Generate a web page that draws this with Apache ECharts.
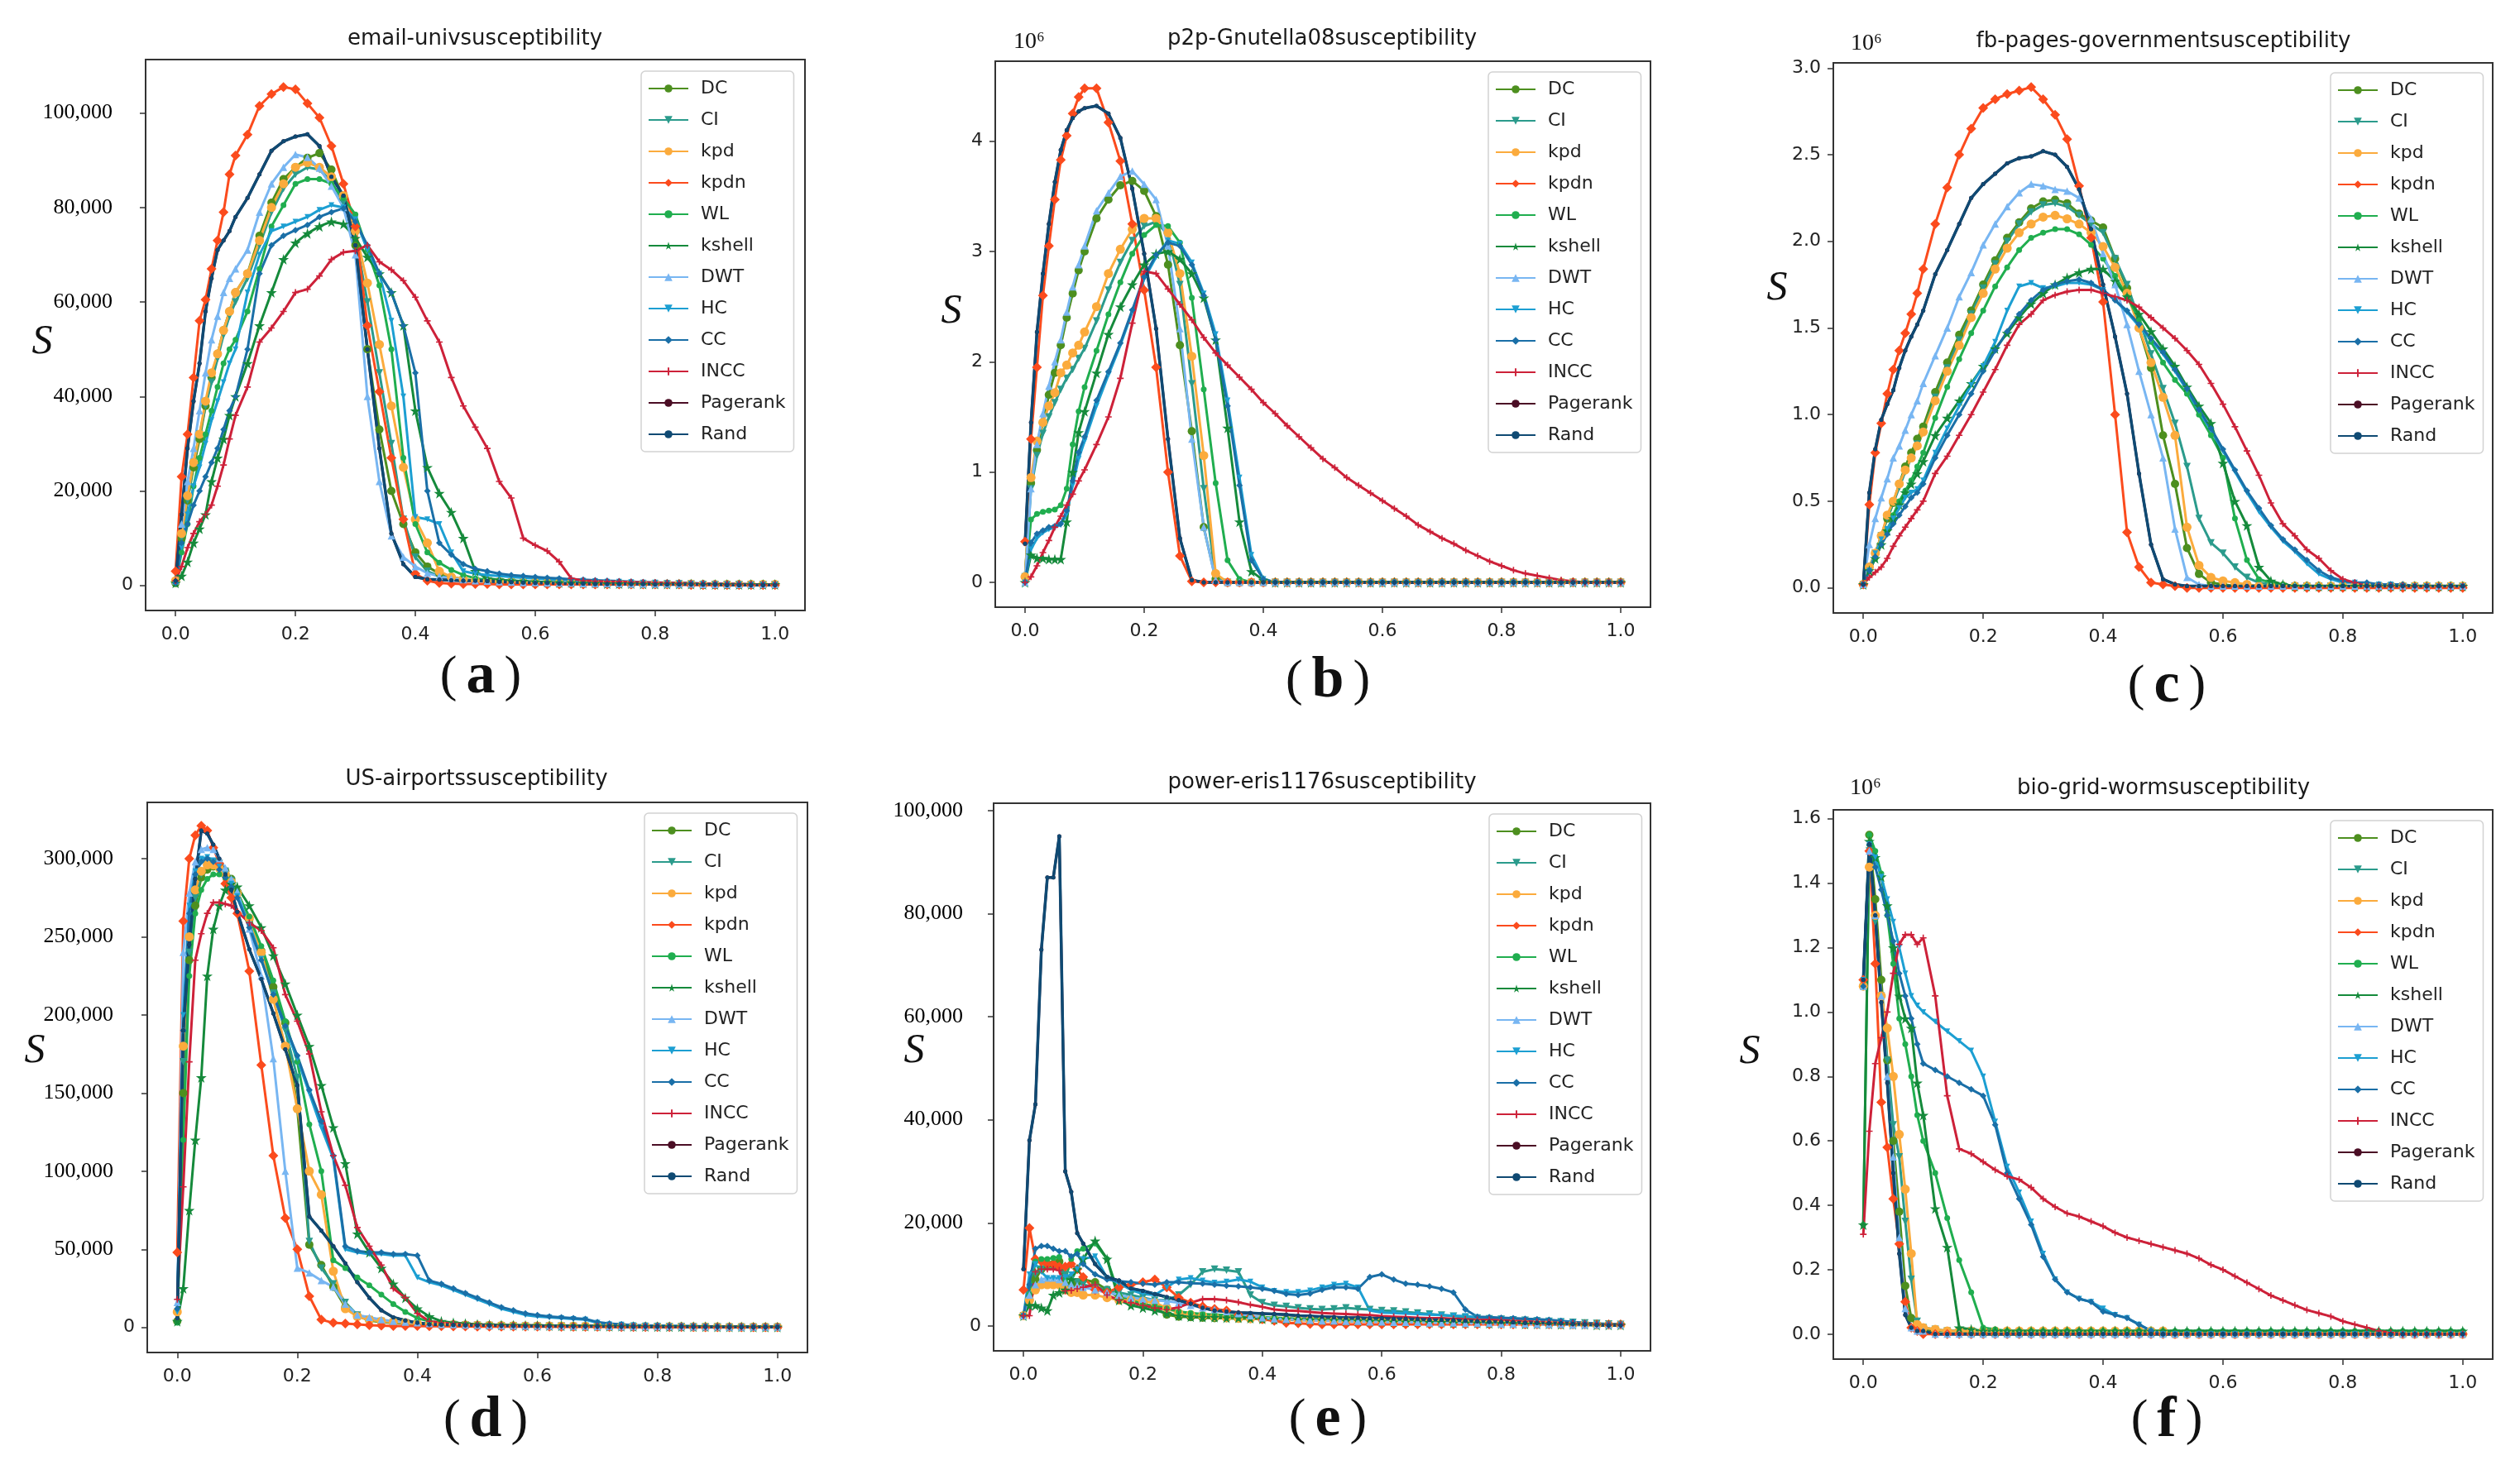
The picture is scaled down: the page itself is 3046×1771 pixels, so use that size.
<!DOCTYPE html>
<html>
<head>
<meta charset="utf-8">
<title>susceptibility</title>
<script src="https://cdn.jsdelivr.net/npm/echarts@6/dist/echarts.min.js"></script>
<style>
  html, body { margin: 0; background: #fff; }
  #chart { width: 3046px; height: 1771px; }
</style>
</head>
<body>
<div id="chart"></div>
<script>
// fraction of removed nodes (shared by all six panels)
const xs = [0,0.01,0.02,0.03,0.04,0.05,0.06,0.07,0.08,0.09,0.1, 0.12,0.14,0.16,0.18,0.2,0.22,0.24,0.26,0.28,0.3, 0.32,0.34,0.36,0.38,0.4,0.42,0.44,0.46,0.48,0.5, 0.52,0.54,0.56,0.58,0.6,0.62,0.64,0.66,0.68,0.7, 0.72,0.74,0.76,0.78,0.8,0.82,0.84,0.86,0.88,0.9,0.92,0.94,0.96,0.98,1];
const xTicks = [0,0.2,0.4,0.6,0.8,1];
const ticksA = [0,20,40,60,80,100];
const ticksB = [0,1,2,3,4];
const ticksC = [0,0.5,1,1.5,2,2.5,3];
const ticksD = [0,50,100,150,200,250,300];
const ticksE = [0,20,40,60,80,100];
const ticksF = [0,0.2,0.4,0.6,0.8,1,1.2,1.4,1.6];
const names = ['DC','CI','kpd','kpdn','WL','kshell','DWT','HC','CC','INCC','Pagerank','Rand'];

// (a) email-univ, thousands
const aDC = [0.5,10,18,25,31,38,44,49,54,58,62, 66,74,81,86,88.5,90.5,91.5,88,82,72, 50,33,20,13,7,4,2.5,1.8,1.3,1, 0.9,0.8,0.7,0.6,0.6,0.5,0.5,0.5,0.4,0.4, 0.4,0.4,0.3,0.3,0.3,0.3,0.3,0.3,0.2,0.2,0.2,0.2,0.2,0.2,0.2];
const aCI = [0.5,10,18,26,32,38,43,48,53,57,60, 65,72,79,84,87,88.5,88,85.5,81,74, 60,45,30,14,6,3,2,1.5,1.2,1, 0.9,0.8,0.7,0.6,0.6,0.5,0.5,0.5,0.4,0.4, 0.4,0.4,0.3,0.3,0.3,0.3,0.3,0.3,0.2,0.2,0.2,0.2,0.2,0.2,0.2];
const akpd = [1,11,19,26,32,39,45,49,54,58,62, 66,73,80,85,88.5,89.5,88.5,86.5,82.5,75, 64,51,38,25,14,9,3,1.8,1.3,1, 0.9,0.8,0.7,0.6,0.6,0.5,0.5,0.5,0.4,0.4, 0.4,0.4,0.3,0.3,0.3,0.3,0.3,0.3,0.2,0.2,0.2,0.2,0.2,0.2,0.2];
const akpdn = [3,23,32,44,56,60.5,67,73,79,87,91, 95.4,101.5,104,105.5,105,102,99,93,85,76, 55,41,27,14,2.5,1,0.5,0.4,0.3,0.3, 0.3,0.2,0.2,0.2,0.2,0.2,0.2,0.2,0.2,0.2, 0.2,0.2,0.2,0.2,0.2,0.2,0.2,0.1,0.1,0.1,0.1,0.1,0.1,0.1,0.1];
const aWL = [0.5,7,13,21,27,32,37,42,47,50,52, 58,67,76,80.5,85,86,86,85,82,78.5, 71,63.5,50,27,13,7,4.8,3.3,2.2,1.5, 1.2,1,0.9,0.8,0.7,0.6,0.6,0.5,0.5,0.4, 0.4,0.4,0.3,0.3,0.3,0.3,0.3,0.2,0.2,0.2,0.2,0.2,0.2,0.2,0.2];
const akshell = [0.5,2,5,9,12,15,22,27,31,36,40, 47,55,62,69,72.5,74.5,76,77,76.5,73.5, 69.5,66,62,55,37,25,19.5,15.5,10,3, 1.5,1.2,1,0.9,0.8,0.7,0.6,0.6,0.5,0.5, 0.4,0.4,0.4,0.3,0.3,0.3,0.3,0.3,0.2,0.2,0.2,0.2,0.2,0.2,0.2];
const aDWT = [1,13,22,29,37,45,52,57,62,65,67, 71,79,85,88.5,91.2,90.6,88.3,84.5,80,70, 40,22,10.5,6,4,2.6,1.9,1.5,1.2,1, 0.9,0.8,0.7,0.6,0.6,0.5,0.5,0.5,0.4,0.4, 0.4,0.4,0.3,0.3,0.3,0.3,0.3,0.3,0.2,0.2,0.2,0.2,0.2,0.2,0.2];
const aHC = [0.5,8,15,21,25,30,35,39,43,47,50, 62,70,75,76,77,78,79.5,80.5,80,77.5, 71,66,56,40,14.5,14,13,7,3,2.5, 2.2,2,1.8,1.6,1.5,1.3,1.2,1.1,1,0.9, 0.8,0.8,0.7,0.6,0.6,0.5,0.5,0.4,0.4,0.3,0.3,0.3,0.2,0.2,0.2];
const aCC = [0.5,9,13,17,20,23,26,29,33,37,40, 50,66,72,74,75.2,76.3,78,79,79.8,77, 72,66,62,55,45,20,9,6.5,4.5,3.5, 3,2.5,2.2,2,1.8,1.6,1.5,1.3,1.2,1.1, 1,0.9,0.8,0.7,0.6,0.6,0.5,0.5,0.4,0.4,0.3,0.3,0.2,0.2,0.2];
const aINCC = [1,4,8,11,13.5,15,17,21,25.5,31,36, 42,51.5,54.5,58,62,62.7,65.5,69,70.5,70.8, 72,68.5,66.8,64.5,61,56,51.5,44,38,33.5, 29,22,18.5,10,8.5,7.3,5,1.5,1,0.9, 0.8,0.8,0.7,0.6,0.6,0.5,0.5,0.4,0.4,0.3,0.3,0.3,0.2,0.2,0.2];
const aRand = [1,15,29,39,47,58,65,71,73,75,78, 82,87,92,94,95,95.5,93,86.5,82.5,72, 50,29,11,4.5,1.8,1.3,1.2,1.1,1,1, 0.9,0.8,0.7,0.6,0.5,0.5,0.4,0.4,0.4,0.3, 0.3,0.3,0.3,0.3,0.2,0.2,0.2,0.2,0.2,0.2,0.1,0.1,0.1,0.1,0.1];
const aPagerank = aRand; // hidden under Rand in the picture

// (b) p2p-Gnutella08, x10^6
const bDC = [0.05,0.9,1.2,1.45,1.7,1.9,2.15,2.4,2.62,2.83,3, 3.3,3.47,3.6,3.64,3.55,3.32,2.88,2.15,1.37,0.5, 0.03,0,0,0,0,0,0,0,0,0, 0,0,0,0,0,0,0,0,0,0, 0,0,0,0,0,0,0,0,0,0,0,0,0,0,0];
const bCI = [0.05,0.85,1.15,1.35,1.5,1.63,1.75,1.85,1.93,2.03,2.12, 2.37,2.65,2.9,3.1,3.23,3.27,3.15,2.7,1.8,0.85, 0.05,0,0,0,0,0,0,0,0,0, 0,0,0,0,0,0,0,0,0,0, 0,0,0,0,0,0,0,0,0,0,0,0,0,0,0];
const bkpd = [0.05,0.95,1.28,1.45,1.6,1.72,1.9,1.97,2.08,2.15,2.27, 2.5,2.8,3.02,3.2,3.3,3.3,3.17,2.8,2.05,1.15, 0.08,0,0,0,0,0,0,0,0,0, 0,0,0,0,0,0,0,0,0,0, 0,0,0,0,0,0,0,0,0,0,0,0,0,0,0];
const bkpdn = [0.37,1.3,1.95,2.6,3.05,3.47,3.83,4.05,4.25,4.4,4.48, 4.48,4.17,3.82,3.25,2.65,1.95,1,0.24,0.01,0, 0,0,0,0,0,0,0,0,0,0, 0,0,0,0,0,0,0,0,0,0, 0,0,0,0,0,0,0,0,0,0,0,0,0,0,0];
const bWL = [0,0.57,0.62,0.64,0.65,0.66,0.7,0.85,1.25,1.55,1.77, 2.1,2.43,2.72,2.98,3.15,3.24,3.23,3.08,2.58,1.75, 0.9,0.2,0.03,0,0,0,0,0,0,0, 0,0,0,0,0,0,0,0,0,0, 0,0,0,0,0,0,0,0,0,0,0,0,0,0,0];
const bkshell = [0,0.25,0.22,0.22,0.21,0.21,0.21,0.55,1,1.36,1.55, 1.9,2.25,2.5,2.7,2.88,2.98,3,2.93,2.8,2.58, 2.2,1.4,0.55,0.1,0.02,0,0,0,0,0, 0,0,0,0,0,0,0,0,0,0, 0,0,0,0,0,0,0,0,0,0,0,0,0,0,0];
const bDWT = [0,0.85,1.25,1.53,1.78,2,2.2,2.45,2.68,2.88,3.05, 3.37,3.53,3.68,3.73,3.61,3.47,3.05,2.3,1.3,0.5, 0.02,0,0,0,0,0,0,0,0,0, 0,0,0,0,0,0,0,0,0,0, 0,0,0,0,0,0,0,0,0,0,0,0,0,0,0];
const bHC = [0,0.3,0.4,0.45,0.48,0.5,0.52,0.62,0.88,1.12,1.28, 1.6,1.88,2.15,2.45,2.75,2.95,3.1,3.07,2.9,2.62, 2.25,1.65,0.95,0.25,0.03,0,0,0,0,0, 0,0,0,0,0,0,0,0,0,0, 0,0,0,0,0,0,0,0,0,0,0,0,0,0,0];
const bCC = [0,0.36,0.44,0.47,0.5,0.51,0.53,0.65,0.92,1.18,1.32, 1.65,1.91,2.17,2.47,2.77,2.97,3.08,3.05,2.88,2.6, 2.2,1.6,0.88,0.2,0.03,0,0,0,0,0, 0,0,0,0,0,0,0,0,0,0, 0,0,0,0,0,0,0,0,0,0,0,0,0,0,0];
const bINCC = [0,0.05,0.15,0.27,0.38,0.5,0.6,0.7,0.8,0.92,1.02, 1.25,1.5,1.85,2.35,2.82,2.8,2.66,2.52,2.38,2.22, 2.08,1.97,1.86,1.75,1.63,1.53,1.42,1.32,1.22,1.12, 1.04,0.95,0.88,0.81,0.74,0.67,0.6,0.52,0.46,0.4, 0.35,0.29,0.24,0.19,0.15,0.11,0.08,0.06,0.04,0.02,0.01,0,0,0,0];
const bRand = [0.35,1.45,2.27,2.8,3.25,3.63,3.92,4.1,4.21,4.27,4.3, 4.32,4.25,4.03,3.57,2.98,2.3,1.3,0.4,0.02,0, 0,0,0,0,0,0,0,0,0,0, 0,0,0,0,0,0,0,0,0,0, 0,0,0,0,0,0,0,0,0,0,0,0,0,0,0];
const bPagerank = bRand;

// (c) fb-pages-government, x10^6
const cDC = [0.02,0.12,0.2,0.3,0.4,0.49,0.6,0.7,0.78,0.86,0.93, 1.13,1.3,1.46,1.6,1.75,1.89,2.02,2.11,2.19,2.23, 2.24,2.22,2.16,2.12,2.08,1.9,1.73,1.5,1.27,0.88, 0.6,0.23,0.08,0.03,0.02,0.01,0.01,0.01,0.01,0.01, 0.01,0.01,0.01,0.01,0.01,0.01,0.01,0.01,0.01,0.01,0.01,0.01,0.01,0.01,0.01];
const cCI = [0.02,0.12,0.2,0.3,0.4,0.49,0.58,0.67,0.75,0.83,0.9, 1.1,1.27,1.43,1.58,1.73,1.87,2,2.1,2.17,2.21, 2.22,2.2,2.15,2.1,2.05,1.9,1.75,1.55,1.35,1.15, 0.95,0.7,0.4,0.26,0.2,0.12,0.06,0.03,0.02,0.01, 0.01,0.01,0.01,0.01,0.01,0.01,0.01,0.01,0.01,0.01,0.01,0.01,0.01,0.01,0.01];
const ckpd = [0.02,0.12,0.2,0.3,0.42,0.5,0.6,0.68,0.75,0.82,0.9, 1.08,1.25,1.4,1.56,1.7,1.84,1.96,2.05,2.1,2.14, 2.15,2.13,2.1,2.05,1.97,1.85,1.7,1.5,1.3,1.1, 0.88,0.35,0.13,0.06,0.04,0.03,0.02,0.01,0.01,0.01, 0.01,0.01,0.01,0.01,0.01,0.01,0.01,0.01,0.01,0.01,0.01,0.01,0.01,0.01,0.01];
const ckpdn = [0.02,0.48,0.78,0.95,1.12,1.26,1.37,1.47,1.58,1.7,1.84, 2.1,2.31,2.5,2.65,2.77,2.82,2.85,2.87,2.89,2.82, 2.73,2.59,2.32,2.02,1.65,1,0.32,0.12,0.03,0.02, 0.01,0,0,0,0,0,0,0,0,0, 0,0,0,0,0,0,0,0,0,0,0,0,0,0,0];
const cWL = [0.02,0.1,0.17,0.25,0.33,0.42,0.5,0.56,0.62,0.7,0.78, 0.98,1.16,1.32,1.47,1.6,1.74,1.85,1.95,2.02,2.05, 2.07,2.07,2.04,1.98,1.9,1.8,1.68,1.55,1.42,1.3, 1.2,1.12,1,0.88,0.75,0.4,0.16,0.05,0.03,0.02, 0.01,0.01,0.01,0.01,0.01,0.01,0.01,0.01,0.01,0.01,0.01,0.01,0.01,0.01,0.01];
const ckshell = [0.02,0.1,0.17,0.25,0.33,0.4,0.48,0.55,0.6,0.66,0.73, 0.88,0.98,1.08,1.18,1.28,1.38,1.47,1.56,1.64,1.7, 1.75,1.79,1.82,1.84,1.84,1.77,1.68,1.58,1.48,1.38, 1.28,1.16,1.05,0.95,0.72,0.5,0.36,0.12,0.04,0.02, 0.01,0.01,0.01,0.01,0.01,0.01,0.01,0.01,0.01,0.01,0.01,0.01,0.01,0.01,0.01];
const cDWT = [0.02,0.25,0.4,0.52,0.63,0.75,0.82,0.91,1,1.08,1.18, 1.34,1.5,1.68,1.82,1.98,2.1,2.2,2.28,2.33,2.32, 2.3,2.29,2.25,2.13,1.93,1.75,1.52,1.25,1,0.75, 0.34,0.06,0.02,0.01,0.01,0.01,0.01,0.01,0.01,0.01, 0.01,0.01,0.01,0.01,0.01,0.01,0.01,0.01,0.01,0.01,0.01,0.01,0.01,0.01,0.01];
const cHC = [0.02,0.1,0.2,0.28,0.34,0.4,0.46,0.52,0.55,0.57,0.62, 0.78,0.92,1.05,1.17,1.28,1.42,1.6,1.74,1.76,1.73, 1.74,1.76,1.76,1.75,1.72,1.66,1.59,1.51,1.43,1.35, 1.25,1.14,1.02,0.91,0.79,0.67,0.55,0.44,0.35,0.27, 0.21,0.14,0.08,0.05,0.03,0.03,0.02,0.02,0.02,0.01,0.01,0.01,0.01,0.01,0.01];
const cCC = [0.02,0.1,0.18,0.25,0.31,0.37,0.42,0.47,0.52,0.55,0.6, 0.75,0.88,1,1.12,1.25,1.37,1.48,1.58,1.66,1.72, 1.75,1.77,1.78,1.76,1.72,1.66,1.6,1.52,1.44,1.36, 1.26,1.15,1.03,0.92,0.8,0.68,0.56,0.46,0.36,0.28, 0.22,0.16,0.1,0.06,0.04,0.03,0.03,0.02,0.02,0.02,0.01,0.01,0.01,0.01,0.01];
const cINCC = [0.02,0.06,0.09,0.12,0.17,0.24,0.3,0.35,0.4,0.45,0.5, 0.66,0.76,0.88,1,1.13,1.26,1.4,1.52,1.58,1.66, 1.69,1.71,1.72,1.72,1.7,1.68,1.66,1.62,1.56,1.5, 1.44,1.37,1.29,1.18,1.06,0.93,0.79,0.65,0.49,0.37, 0.3,0.22,0.17,0.1,0.05,0.03,0.01,0.01,0.01,0.01,0.01,0.01,0.01,0.01,0.01];
const cRand = [0.02,0.55,0.8,0.97,1.06,1.14,1.27,1.37,1.45,1.52,1.6, 1.81,1.95,2.1,2.25,2.33,2.39,2.45,2.48,2.49,2.52, 2.5,2.43,2.3,2.07,1.75,1.45,1.12,0.66,0.25,0.05, 0.02,0.01,0.01,0.01,0.01,0.01,0.01,0.01,0.01,0.01, 0.01,0.01,0.01,0.01,0.01,0.01,0.01,0.01,0.01,0.01,0.01,0.01,0.01,0.01,0.01];
const cPagerank = cRand;

// (d) US-airports, thousands
const dDC = [4,150,235,270,288,293,295,296,292,287,279, 261,241,218,195,140,53,40,26,13,7.5, 4.5,3.5,3,2.5,2.2,2,1.8,1.6,1.5,1.4, 1.3,1.2,1.1,1,1,0.9,0.9,0.8,0.8,0.7, 0.7,0.6,0.6,0.6,0.5,0.5,0.5,0.4,0.4,0.4,0.3,0.3,0.3,0.3,0.3];
const dCI = [8,170,240,275,290,296,298,297,292,286,278, 259,238,214,190,160,55,38,28,16,8, 5,4,3.5,3,2.5,2.2,2,1.8,1.6,1.5, 1.3,1.2,1.1,1,1,0.9,0.9,0.8,0.8,0.7, 0.7,0.6,0.6,0.6,0.5,0.5,0.5,0.4,0.4,0.4,0.3,0.3,0.3,0.3,0.3];
const dkpd = [10,180,250,280,292,296,296,294,290,285,278, 262,240,210,180,140,100,85,36,12,7, 5,4,3.5,3,2.5,2.2,2,1.8,1.6,1.5, 1.3,1.2,1.1,1,1,0.9,0.9,0.8,0.8,0.7, 0.7,0.6,0.6,0.6,0.5,0.5,0.5,0.4,0.4,0.4,0.3,0.3,0.3,0.3,0.3];
const dkpdn = [48,260,300,315,321,318,307,297,284,275,265, 228,168,110,70,50,20,5,3,2.5,2, 1.5,1.2,1,1,0.9,0.8,0.8,0.7,0.7,0.6, 0.6,0.6,0.5,0.5,0.5,0.5,0.4,0.4,0.4,0.4, 0.4,0.3,0.3,0.3,0.3,0.3,0.3,0.3,0.2,0.2,0.2,0.2,0.2,0.2,0.2];
const dWL = [3,120,225,265,280,287,290,290,288,284,278, 263,244,222,196,170,130,100,43,38,32, 27,21,15,10,6,4,3,2.5,2,1.8, 1.6,1.5,1.4,1.3,1.2,1.1,1,0.9,0.9,0.8, 0.8,0.7,0.7,0.6,0.6,0.5,0.5,0.5,0.4,0.4,0.4,0.3,0.3,0.3,0.3];
const dkshell = [4,25,75,120,160,225,255,270,280,284,282, 270,256,238,220,200,180,155,128,105,60, 48,38,28,19,12,7,4,3,2.5,2, 1.8,1.6,1.5,1.4,1.3,1.2,1.1,1,0.9,0.9, 0.8,0.8,0.7,0.7,0.6,0.6,0.5,0.5,0.5,0.4,0.4,0.4,0.3,0.3,0.3];
const dDWT = [16,240,278,298,306,307,306,300,294,287,279, 255,225,172,100,38,35,30,26,15,8, 6.5,5,4,3.5,3,2.5,2,1.8,1.6,1.5, 1.3,1.2,1.1,1,1,0.9,0.9,0.8,0.8,0.7, 0.7,0.6,0.6,0.6,0.5,0.5,0.5,0.4,0.4,0.4,0.3,0.3,0.3,0.3,0.3];
const dHC = [10,200,270,292,300,301,299,295,290,284,276, 258,236,213,192,172,150,128,108,50,48, 47,47,46,46,32,29,27,24,21,18, 15,12,10,8,7,6.5,6,5.5,5,3, 2,1.8,1.5,1.3,1.2,1,0.9,0.8,0.7,0.6,0.5,0.5,0.4,0.4,0.4];
const dCC = [12,190,265,290,298,300,298,293,288,282,275, 256,235,213,193,174,152,132,110,52,49, 48,48,47,47,46,30,28,25,22,19, 16,13,11,9,8,7,6.5,6,5.5,3.5, 2.5,2,1.5,1.3,1.2,1,0.9,0.8,0.7,0.6,0.5,0.5,0.4,0.4,0.4];
const dINCC = [18,90,170,235,252,265,272,272,271,270,266, 259,254,243,213,196,175,138,110,91,64, 52,40,25,19,9,4,3,2.5,2,1.8, 1.6,1.5,1.4,1.3,1.2,1.1,1,0.9,0.9,0.8, 0.8,0.7,0.7,0.6,0.6,0.5,0.5,0.5,0.4,0.4,0.4,0.3,0.3,0.3,0.3];
const dRand = [6,190,245,287,318,316,309,300,290,280,266, 242,223,201,178,155,71,62,52,41,29, 19,11,6.5,4.5,3,2,1.8,1.6,1.5,1.4, 1.3,1.2,1.1,1,1,0.9,0.9,0.8,0.8,0.7, 0.7,0.6,0.6,0.6,0.5,0.5,0.5,0.4,0.4,0.4,0.3,0.3,0.3,0.3,0.3];
const dPagerank = dRand;

// (e) power-eris1176, thousands
const eDC = [2,5,9,11,12,12,12.5,8,8,8.5,9, 8.5,7,5.5,5,4.5,3.5,2.2,1.8,1.7,1.6, 1.5,1.5,1.4,1.4,1.3,1.3,1.2,1.2,1.1,1.1, 1,1,0.9,0.9,0.9,0.8,0.8,0.8,0.7,0.7, 0.7,0.6,0.6,0.6,0.5,0.5,0.5,0.4,0.4,0.4,0.3,0.3,0.3,0.2,0.2];
const eCI = [2,6,10,11,11.5,11.5,11,10,9,8.5,8, 7.5,7,6.5,6,5.5,5,5,6,8,10.5, 11,10.8,10.5,6,4.5,4,3.8,3.5,3.3,3.2, 3.3,3.5,3.3,3.2,3,2.9,2.7,2.5,2.3,2.1, 1.9,1.7,1.5,1.4,1.3,1.2,1.1,1,0.9,0.8,0.7,0.6,0.5,0.4,0.3];
const ekpd = [2,5,7,8,8,8,8,7,6.5,6.5,6, 6,5.5,5,5,4.8,4.5,3.5,2.5,2.2,2, 1.8,1.6,1.5,1.4,1.3,1.2,1.2,1.1,1.1,1, 1,0.9,0.9,0.9,0.8,0.8,0.8,0.7,0.7,0.7, 0.6,0.6,0.6,0.5,0.5,0.5,0.4,0.4,0.4,0.3,0.3,0.3,0.2,0.2,0.2];
const ekpdn = [7,19,13,12.5,12,12,11.5,11.5,12,11,9.5, 7,6.5,7.5,8,8.5,9,7.5,5.5,4.5,3.8, 3.3,3,2.2,1.8,1.3,1,0.6,0.5,0.4,0.3, 0.3,0.3,0.3,0.3,0.3,0.3,0.3,0.3,0.3,0.3, 0.3,0.3,0.3,0.3,0.3,0.3,0.3,0.3,0.3,0.3,0.3,0.3,0.3,0.3,0.3];
const eWL = [2,6,12.5,13,13,13.2,13.4,9,13,14.5,15, 16,13,6,5,4.2,3.9,3.4,2.8,2.5,2.3, 2.2,2.1,2,1.8,1.7,1.6,1.5,1.4,1.3,1.3, 1.2,1.2,1.1,1.1,1,1,0.9,0.9,0.8,0.8, 0.7,0.7,0.6,0.6,0.5,0.5,0.4,0.4,0.3,0.3,0.2,0.2,0.1,0.1,0.1];
const ekshell = [2,4,4,3.5,3,6,6.5,7,9,11,13, 16.5,13,5,4,3.5,3,2.5,2,1.8,1.7, 1.7,1.6,1.6,1.5,1.4,1.3,1.3,1.2,1.2,1.1, 1.1,1,1,0.9,0.9,0.8,0.8,0.8,0.7,0.7, 0.6,0.6,0.6,0.5,0.5,0.5,0.4,0.4,0.4,0.3,0.3,0.3,0.2,0.2,0.2];
const eDWT = [2,6,8,9,9.3,9.3,9,8.5,8,7.8,7.5, 7,6.5,6,5.5,5.2,5,4.8,4.5,4,3.5, 3.2,2.8,2.4,2,1.6,1.4,1.3,1.2,1.1,1, 1,0.9,0.9,0.8,0.8,0.7,0.7,0.7,0.6,0.6, 0.6,0.5,0.5,0.5,0.4,0.4,0.4,0.3,0.3,0.3,0.2,0.2,0.2,0.2,0.2];
const eHC = [2,10,12,10.5,9.3,9.3,9.3,9.5,10,11,13, 13.5,9.3,8.3,7,6.2,6,7.5,9,9.3,8.8, 8.4,8.6,9,8.6,7.5,6.8,6.6,6.6,6.9,7.5, 8,8.2,7.5,3,2.6,2.5,2.4,2.3,2.2,2.1, 2,1.9,1.7,1.5,1.4,1.3,1.2,1.1,1,0.9,0.7,0.5,0.4,0.3,0.3];
const eCC = [2,8,15,15.5,15.5,15,14.5,14.5,13.5,14,12, 10,9,8.7,8.5,8.2,8,8.5,8.5,8.3,8.2, 8,7.8,7.7,7.5,7.2,6.8,6.2,6,6.3,7, 7.5,7.5,7.2,9.5,10,9,8.2,8,7.7,7.2, 6.5,3.2,1.8,1.7,1.6,1.5,1.4,1.3,1.2,1,0.8,0.6,0.4,0.3,0.3];
const eINCC = [2,2,10.5,11,11,11,10.8,6.8,6.9,7.2,7.5, 8,6,5,4.5,4,3.5,3.2,3.6,4.5,5.2, 5.2,5,4.6,4.1,3.7,3.2,3,2.9,2.7,2.5, 2.4,2.3,2.2,2.1,1.9,1.8,1.7,1.6,1.5,1.5, 1.4,1.3,1.2,1.2,1.1,1,0.9,0.8,0.7,0.6,0.5,0.4,0.3,0.2,0.2];
const eRand = [11,36,43,73,87,87,95,30,26,18,16, 12,9.5,8.8,7.3,6.8,6.2,5.6,5,4.3,3.5, 3,2.8,2.6,2.5,2.4,2.3,2.2,2,1.9,1.8, 1.7,1.6,1.6,1.5,1.5,1.4,1.4,1.3,1.2,1.2, 1.1,1,0.9,0.8,0.8,0.7,0.6,0.6,0.5,0.5,0.4,0.3,0.2,0.1,0.1];
const ePagerank = eRand;

// (f) bio-grid-worm, x10^6
const fDC = [1.08,1.55,1.35,1.1,0.85,0.6,0.38,0.15,0.05,0.02,0.015, 0.01,0.01,0.01,0,0,0,0,0,0,0, 0,0,0,0,0,0,0,0,0,0, 0,0,0,0,0,0,0,0,0,0, 0,0,0,0,0,0,0,0,0,0,0,0,0,0,0];
const fCI = [1.08,1.5,1.28,1.05,0.85,0.65,0.55,0.35,0.17,0.04,0.02, 0.015,0.01,0.01,0.01,0,0,0,0,0,0, 0,0,0,0,0,0,0,0,0,0, 0,0,0,0,0,0,0,0,0,0, 0,0,0,0,0,0,0,0,0,0,0,0,0,0,0];
const fkpd = [1.08,1.45,1.3,1.05,0.95,0.8,0.62,0.45,0.25,0.03,0.02, 0.015,0.01,0.01,0.01,0.01,0.01,0.01,0.01,0.01,0.01, 0.01,0.01,0.01,0.01,0.01,0.01,0.01,0.01,0.01,0.01, 0,0,0,0,0,0,0,0,0,0, 0,0,0,0,0,0,0,0,0,0,0,0,0,0,0];
const fkpdn = [1.1,1.5,1.15,0.72,0.58,0.42,0.28,0.1,0.02,0.01,0, 0,0,0,0,0,0,0,0,0,0, 0,0,0,0,0,0,0,0,0,0, 0,0,0,0,0,0,0,0,0,0, 0,0,0,0,0,0,0,0,0,0,0,0,0,0,0];
const fWL = [0.34,1.55,1.5,1.43,1.3,1.15,0.98,0.9,0.8,0.68,0.6, 0.5,0.36,0.23,0.13,0.02,0.015,0.01,0.01,0.01,0.01, 0.01,0.01,0.01,0.01,0.01,0.01,0.01,0.01,0.01,0.01, 0.01,0.01,0.01,0.01,0.01,0.01,0.01,0.01,0.01,0.01, 0.01,0.01,0.01,0.01,0.01,0.01,0.01,0.01,0.01,0.01,0.01,0.01,0.01,0.01,0.01];
const fkshell = [0.34,1.53,1.48,1.42,1.33,1.2,1.05,0.98,0.95,0.78,0.68, 0.39,0.27,0.02,0.015,0.01,0.01,0.01,0.01,0.01,0.01, 0.01,0.01,0.01,0.01,0.01,0.01,0.01,0.01,0.01,0.01, 0.01,0.01,0.01,0.01,0.01,0.01,0.01,0.01,0.01,0.01, 0.01,0.01,0.01,0.01,0.01,0.01,0.01,0.01,0.01,0.01,0.01,0.01,0.01,0.01,0.01];
const fDWT = [1.08,1.5,1.3,1.05,0.8,0.55,0.3,0.08,0.02,0.01,0.01, 0,0,0,0,0,0,0,0,0,0, 0,0,0,0,0,0,0,0,0,0, 0,0,0,0,0,0,0,0,0,0, 0,0,0,0,0,0,0,0,0,0,0,0,0,0,0];
const fHC = [1.1,1.52,1.48,1.42,1.35,1.28,1.2,1.12,1.05,1.02,1, 0.97,0.94,0.91,0.88,0.8,0.66,0.52,0.44,0.35,0.25, 0.17,0.13,0.11,0.1,0.08,0.06,0.05,0.03,0.01,0, 0,0,0,0,0,0,0,0,0,0, 0,0,0,0,0,0,0,0,0,0,0,0,0,0,0];
const fCC = [1.08,1.52,1.45,1.38,1.3,1.22,1.12,1.05,0.98,0.9,0.84, 0.82,0.8,0.78,0.76,0.74,0.65,0.5,0.42,0.34,0.24, 0.17,0.13,0.11,0.1,0.07,0.06,0.05,0.03,0.01,0, 0,0,0,0,0,0,0,0,0,0, 0,0,0,0,0,0,0,0,0,0,0,0,0,0,0];
const fINCC = [0.31,0.63,0.84,0.92,1,1.12,1.21,1.24,1.24,1.21,1.23, 1.05,0.74,0.575,0.56,0.535,0.51,0.49,0.48,0.455,0.42, 0.395,0.375,0.365,0.35,0.335,0.315,0.3,0.29,0.28,0.27, 0.26,0.25,0.235,0.215,0.2,0.18,0.16,0.14,0.12,0.105, 0.09,0.075,0.065,0.055,0.04,0.03,0.02,0.01,0.005,0,0,0,0,0,0];
const fRand = [1.1,1.52,1.3,1.03,0.78,0.5,0.25,0.06,0.02,0.01,0.01, 0,0,0,0,0,0,0,0,0,0, 0,0,0,0,0,0,0,0,0,0, 0,0,0,0,0,0,0,0,0,0, 0,0,0,0,0,0,0,0,0,0,0,0,0,0,0];
const fPagerank = fRand;

const STAR = 'path://M50,0 L61,35 L98,35 L68,57 L79,91 L50,70 L21,91 L32,57 L2,35 L39,35 Z';
const PLUS = 'path://M40,0 L60,0 L60,40 L100,40 L100,60 L60,60 L60,100 L40,100 L40,60 L0,60 L0,40 L40,40 Z';
const look = {
  DC:       { color: '#4d8f1f', symbol: 'circle',   size: 10 },
  CI:       { color: '#2b9b8c', symbol: 'triangle', size: 9, rotate: 180 },
  kpd:      { color: '#fbab3d', symbol: 'circle',   size: 11 },
  kpdn:     { color: '#fb4b1d', symbol: 'diamond',  size: 12 },
  WL:       { color: '#20ae4f', symbol: 'circle',   size: 7 },
  kshell:   { color: '#158a3b', symbol: STAR,       size: 13 },
  DWT:      { color: '#78b6f2', symbol: 'triangle', size: 9 },
  HC:       { color: '#1c9fd2', symbol: 'triangle', size: 7, rotate: 180 },
  CC:       { color: '#1a6fa7', symbol: 'diamond',  size: 8 },
  INCC:     { color: '#cd2139', symbol: PLUS,       size: 8 },
  Pagerank: { color: '#4b0e25', symbol: 'circle',   size: 5 },
  Rand:     { color: '#0f4a73', symbol: 'circle',   size: 5 }
};

const sans = 'DejaVu Sans';
const serif = 'Liberation Serif';

const panels = [
  { title: 'email-univsusceptibility', tag: 'a', box: [176, 72, 797, 666], y: [-5.3, 111.3], ticks: ticksA, kind: 'serif', pad: 25,
    legend: [775, 86], titleAt: [574, 47], sAt: [51, 414], tagAt: [581, 819],
    sets: [aDC, aCI, akpd, akpdn, aWL, akshell, aDWT, aHC, aCC, aINCC, aPagerank, aRand] },
  { title: 'p2p-Gnutella08susceptibility', tag: 'b', box: [1203, 74, 792, 660], y: [-0.225, 4.725], ticks: ticksB, kind: 'int',
    legend: [1799, 87], titleAt: [1598, 47], sAt: [1150, 377], tagAt: [1605, 824], exp: [1225, 51],
    sets: [bDC, bCI, bkpd, bkpdn, bWL, bkshell, bDWT, bHC, bCC, bINCC, bPagerank, bRand] },
  { title: 'fb-pages-governmentsusceptibility', tag: 'c', box: [2216, 76, 797, 665], y: [-0.145, 3.03], ticks: ticksC, kind: 'dec',
    legend: [2817, 88], titleAt: [2615, 50], sAt: [2148, 349], tagAt: [2619, 830], exp: [2237, 53],
    sets: [cDC, cCI, ckpd, ckpdn, cWL, ckshell, cDWT, cHC, cCC, cINCC, cPagerank, cRand] },
  { title: 'US-airportssusceptibility', tag: 'd', box: [178, 970, 798, 665], y: [-16, 336], ticks: ticksD, kind: 'serif', pad: 26,
    legend: [779, 983], titleAt: [576, 942], sAt: [42, 1271], tagAt: [587, 1718],
    sets: [dDC, dCI, dkpd, dkpdn, dWL, dkshell, dDWT, dHC, dCC, dINCC, dPagerank, dRand] },
  { title: 'power-eris1176susceptibility', tag: 'e', box: [1201, 971, 794, 662], y: [-4.83, 101.4], ticks: ticksE, kind: 'serif', pad: 22,
    legend: [1800, 984], titleAt: [1598, 946], sAt: [1105, 1271], tagAt: [1605, 1717],
    sets: [eDC, eCI, ekpd, ekpdn, eWL, ekshell, eDWT, eHC, eCC, eINCC, ePagerank, eRand] },
  { title: 'bio-grid-wormsusceptibility', tag: 'f', box: [2216, 979, 797, 664], y: [-0.0775, 1.6275], ticks: ticksF, kind: 'dec',
    legend: [2817, 992], titleAt: [2615, 953], sAt: [2115, 1272], tagAt: [2619, 1718], exp: [2236, 953],
    sets: [fDC, fCI, fkpd, fkpdn, fWL, fkshell, fDWT, fHC, fCC, fINCC, fPagerank, fRand] }
];

function yLabel(p) {
  if (p.kind === 'serif') {
    return v => v === 0 ? '{s|0}' : '{t|' + Math.round(v * 1000).toLocaleString('en-US') + '}';
  }
  if (p.kind === 'int') return v => String(Math.round(v));
  return v => v.toFixed(1);
}

const grid = [], xAxis = [], yAxis = [], legend = [], series = [], graphic = [];

panels.forEach((p, i) => {
  grid.push({ left: p.box[0], top: p.box[1], width: p.box[2], height: p.box[3],
    show: true, borderColor: '#333', borderWidth: 2, backgroundColor: '#fff' });

  xAxis.push({ type: 'value', gridIndex: i, min: -0.05, max: 1.05, position: 'bottom',
    axisLine: { show: false, onZero: false }, splitLine: { show: false },
    axisTick: { show: true, length: 7, customValues: xTicks, lineStyle: { color: '#333', width: 1.5 } },
    axisLabel: { customValues: xTicks, formatter: v => v.toFixed(1), margin: 18,
      fontFamily: sans, fontSize: 22, color: '#222' } });

  yAxis.push({ type: 'value', gridIndex: i, min: p.y[0], max: p.y[1], position: 'left',
    axisLine: { show: false, onZero: false }, splitLine: { show: false },
    axisTick: { show: true, length: 7, customValues: p.ticks, lineStyle: { color: '#333', width: 1.5 } },
    axisLabel: { customValues: p.ticks, formatter: yLabel(p), margin: 15,
      fontFamily: sans, fontSize: 22, color: '#222',
      rich: {
        s: { fontFamily: sans, fontSize: 22, color: '#222' },
        t: { fontFamily: serif, fontSize: 26, color: '#000', padding: [0, p.pad || 0, 0, 0] }
      } } });

  legend.push({ orient: 'vertical', left: p.legend[0], top: p.legend[1], data: names,
    selectedMode: false, itemWidth: 48, itemHeight: 12, itemGap: 16,
    padding: [10, 10, 10, 8], borderColor: '#d2d2d2', borderWidth: 1.5, borderRadius: 5,
    backgroundColor: 'rgba(255,255,255,0.85)',
    textStyle: { fontFamily: sans, fontSize: 22, color: '#222', lineHeight: 22, padding: [0, 0, 0, 10] } });

  names.forEach((name, j) => {
    const lk = look[name];
    series.push({
      type: 'line', name: name, xAxisIndex: i, yAxisIndex: i,
      data: p.sets[j].map((v, k) => [xs[k], v]),
      symbol: lk.symbol, symbolSize: lk.size, symbolRotate: lk.rotate || 0,
      lineStyle: { color: lk.color, width: name === 'Rand' ? 3.5 : 3 },
      itemStyle: { color: lk.color },
      silent: true, animation: false
    });
  });

  graphic.push({ type: 'text', x: p.titleAt[0], y: p.titleAt[1],
    style: { text: p.title, font: '26px "DejaVu Sans"', fill: '#1a1a1a', align: 'center', verticalAlign: 'middle' } });
  graphic.push({ type: 'text', x: p.sAt[0], y: p.sAt[1],
    style: { text: 'S', font: 'italic 50px "Liberation Serif"', fill: '#111', align: 'center', verticalAlign: 'middle' } });
  graphic.push({ type: 'text', x: p.tagAt[0], y: p.tagAt[1],
    style: { text: '{p|(}{l|' + p.tag + '}{p|)}', align: 'center', verticalAlign: 'middle',
      rich: {
        p: { fontFamily: serif, fontSize: 62, fill: '#111' },
        l: { fontFamily: serif, fontSize: 70, fontWeight: 'bold', fill: '#111', padding: [0, 11, 0, 11] }
      } } });
  if (p.exp) {
    graphic.push({ type: 'text', x: p.exp[0], y: p.exp[1],
      style: { text: '10⁶', font: '28px "Liberation Serif", "DejaVu Serif"', fill: '#111', align: 'left', verticalAlign: 'middle' } });
  }
});

const chart = echarts.init(document.getElementById('chart'));
chart.setOption({
  animation: false,
  backgroundColor: '#fff',
  grid: grid,
  xAxis: xAxis,
  yAxis: yAxis,
  legend: legend,
  series: series,
  graphic: graphic
});
</script>
</body>
</html>
